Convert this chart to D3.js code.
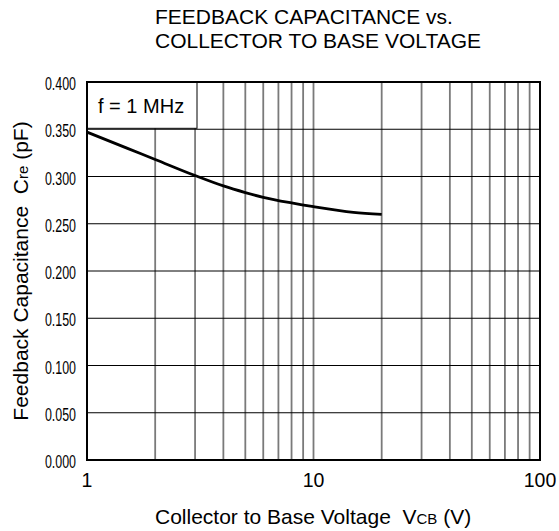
<!DOCTYPE html>
<html>
<head>
<meta charset="utf-8">
<script src="https://cdn.jsdelivr.net/npm/d3@7"></script>
<style>
  body { margin: 0; background: #fff; }
  text { font-family: "Liberation Sans", Arial, sans-serif; fill: #000; white-space: pre; }
</style>
</head>
<body>
<div id="chart"></div>
<script>
// curve
var vcb = [1, 1.5, 2, 3, 4, 5, 6, 8, 10, 15, 20];
var cre = [0.347, 0.330, 0.318, 0.301, 0.290, 0.283, 0.278, 0.272, 0.268, 0.262, 0.260];
var yTicks = [0, 0.05, 0.1, 0.15, 0.2, 0.25, 0.3, 0.35, 0.4];
var xTicks = [1, 10, 100];
var xGrid = [2,3,4,5,6,7,8,9,10,20,30,40,50,60,70,80,90];

var W = 559, H = 531;
var margin = ({top: 82, right: 19, bottom: 71, left: 87});

var x = d3.scaleLog().domain([1, 100]).range([margin.left, W - margin.right]);
var y = d3.scaleLinear().domain([0, 0.4]).range([H - margin.bottom, margin.top]);

const svg = d3.select("#chart").append("svg")
    .attr("width", W).attr("height", H);

// title, two lines, left aligned
svg.append("text").attr("x", 155).attr("y", 24)
    .attr("font-size", "21px").text("FEEDBACK CAPACITANCE vs.");
svg.append("text").attr("x", 155).attr("y", 48)
    .attr("font-size", "21px").text("COLLECTOR TO BASE VOLTAGE");

// vertical grid (gray)
svg.append("g").selectAll("line").data(xGrid).join("line")
    .attr("x1", d => x(d)).attr("x2", d => x(d))
    .attr("y1", y(0.4)).attr("y2", y(0))
    .attr("stroke", "#7a7a7a").attr("stroke-width", 1.8);

// horizontal grid (black)
svg.append("g").selectAll("line").data(yTicks.slice(1, -1)).join("line")
    .attr("x1", x(1)).attr("x2", x(100))
    .attr("y1", d => y(d)).attr("y2", d => y(d))
    .attr("stroke", "#000").attr("stroke-width", 1);

// legend box
svg.append("rect").attr("x", x(1)).attr("y", y(0.4))
    .attr("width", 110).attr("height", y(0.351) - y(0.4))
    .attr("fill", "#fff").attr("stroke", "#000").attr("stroke-width", 1);
svg.append("text").attr("x", 98).attr("y", 113)
    .attr("font-size", "20px").text("f = 1 MHz");

// frame
svg.append("rect").attr("x", x(1)).attr("y", y(0.4))
    .attr("width", x(100) - x(1)).attr("height", y(0) - y(0.4))
    .attr("fill", "none").attr("stroke", "#000").attr("stroke-width", 2);

// curve
var line = d3.line().x((d, i) => x(vcb[i])).y(d => y(d)).curve(d3.curveMonotoneX);
svg.append("path").datum(cre).attr("d", line)
    .attr("fill", "none").attr("stroke", "#000").attr("stroke-width", 2.8);

// y tick labels (narrow)
svg.append("g").selectAll("text").data(yTicks).join("text")
    .attr("transform", d => `translate(76,${y(d) + 8}) scale(0.71,1)`)
    .attr("text-anchor", "end").attr("font-size", "17.5px")
    .text(d => d3.format(".3f")(d));

// x tick labels
svg.append("g").selectAll("text").data(xTicks).join("text")
    .attr("x", d => x(d)).attr("y", 487)
    .attr("text-anchor", "middle").attr("font-size", "19.5px")
    .text(d => d);

// x title
var xt = svg.append("text").attr("x", 155).attr("y", 524)
    .attr("font-size", "21px");
xt.append("tspan").text("Collector to Base Voltage  V");
xt.append("tspan").attr("font-size", "15px").text("CB");
xt.append("tspan").text(" (V)");

// y title
var yt = svg.append("text").attr("transform", `translate(28,${y(0.2)}) rotate(-90)`)
    .attr("text-anchor", "middle").attr("font-size", "21px");
yt.append("tspan").text("Feedback Capacitance  C");
yt.append("tspan").attr("font-size", "15px").text("re");
yt.append("tspan").text(" (pF)");
</script>
</body>
</html>
